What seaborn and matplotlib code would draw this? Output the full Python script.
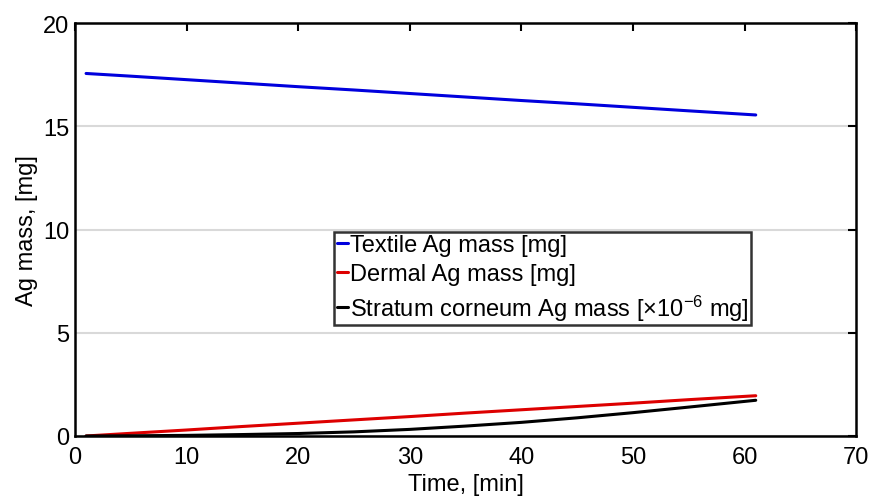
import numpy as np
import pandas as pd
import matplotlib
matplotlib.use("Agg")
import matplotlib.pyplot as plt
import seaborn as sns

# values
time_min = [1, 5, 10, 15, 20, 25, 30, 35, 40, 45, 50, 55, 61]
textile_mass = [17.56, 17.43, 17.26, 17.09, 16.92, 16.76, 16.59,
                16.42, 16.25, 16.09, 15.92, 15.75, 15.55]
dermal_mass = [0.0, 0.13, 0.29, 0.46, 0.62, 0.78, 0.94,
               1.11, 1.27, 1.43, 1.59, 1.76, 1.95]
stratum_mass = [0.0, 0.01, 0.03, 0.07, 0.12, 0.20, 0.32,
                0.48, 0.66, 0.88, 1.13, 1.40, 1.73]

labels = ["Textile Ag mass [mg]",
          "Dermal Ag mass [mg]",
          r"Stratum corneum Ag mass [$\times$10$^{-6}$ mg]"]
colors = ["#0000dd", "#dd0000", "#000000"]

df = pd.concat([
    pd.DataFrame({"time": time_min, "mass": textile_mass, "series": labels[0]}),
    pd.DataFrame({"time": time_min, "mass": dermal_mass, "series": labels[1]}),
    pd.DataFrame({"time": time_min, "mass": stratum_mass, "series": labels[2]}),
])

sns.set_style("white")
plt.rcParams["font.family"] = ["Liberation Sans", "DejaVu Sans"]
plt.rcParams["mathtext.fontset"] = "custom"
plt.rcParams["mathtext.rm"] = "Liberation Sans"
plt.rcParams["mathtext.it"] = "Liberation Sans:italic"
plt.rcParams["text.color"] = "black"
plt.rcParams["axes.labelcolor"] = "black"
plt.rcParams["xtick.color"] = "black"
plt.rcParams["ytick.color"] = "black"

fig = plt.figure(figsize=(8.71, 5.02), dpi=100)
ax = fig.add_axes([0.086, 0.1295, 0.897, 0.8225])

sns.lineplot(data=df, x="time", y="mass", hue="series", hue_order=labels,
             palette=colors, linewidth=2.2, ax=ax, legend=True)

ax.set_xlim(0, 70)
ax.set_ylim(0, 20)
ax.set_xticks(np.arange(0, 71, 10))
ax.set_yticks(np.arange(0, 21, 5))
ax.yaxis.grid(True, color="#d9d9d9", linewidth=1.5)
ax.set_axisbelow(True)
ax.tick_params(direction="in", length=6, width=1.5, labelsize=17,
               top=True, right=True)
ax.tick_params(axis="x", pad=7)
ax.tick_params(axis="y", pad=4)
for sp in ax.spines.values():
    sp.set_color("black")
    sp.set_linewidth(1.8)
ax.set_xlabel("Time, [min]", fontsize=17, labelpad=4)
ax.set_ylabel("Ag mass, [mg]", fontsize=17, labelpad=4)

leg = ax.legend(loc="upper left", bbox_to_anchor=(0.332, 0.494),
                fontsize=17, handlelength=0.5, handletextpad=0.05,
                borderpad=0.1, borderaxespad=0, labelspacing=0.3,
                frameon=True, fancybox=False, edgecolor="black")
leg.get_frame().set_linewidth(1.8)

fig.savefig("out.png", dpi=100)
